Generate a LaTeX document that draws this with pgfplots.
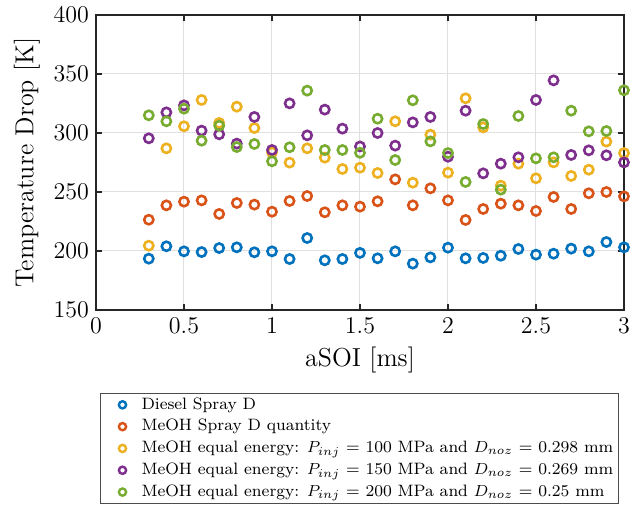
\documentclass[border=0pt]{standalone}
\usepackage{pgfplots}
\pgfplotsset{compat=1.18}
\definecolor{c1}{rgb}{0,0.447,0.741}
\definecolor{c2}{rgb}{0.85,0.325,0.098}
\definecolor{c3}{rgb}{0.929,0.694,0.125}
\definecolor{c4}{rgb}{0.494,0.184,0.556}
\definecolor{c5}{rgb}{0.466,0.674,0.188}
\pgfplotstableread{
x d m e100 e150 e200
0.3 193.5 226.5 204.5 295.5 315.0
0.4 204.0 238.7 287.0 317.5 309.9
0.5 199.7 241.8 305.7 323.4 320.6
0.6 199.1 242.9 328.0 302.0 293.5
0.7 202.5 231.4 308.5 298.9 306.2
0.8 203.1 240.7 322.3 291.0 288.1
0.9 198.9 239.3 304.2 313.6 290.7
1.0 199.7 233.3 283.6 285.6 276.0
1.1 193.2 242.4 274.9 325.1 287.9
1.2 211.0 246.6 287.0 298.0 335.9
1.3 192.1 232.8 279.1 319.8 285.6
1.4 193.2 238.7 269.5 303.7 285.6
1.5 198.4 237.6 270.6 288.6 283.2
1.6 193.8 242.1 266.1 300.0 312.1
1.7 199.7 260.7 309.9 289.3 277.1
1.8 189.3 238.7 257.9 309.0 327.7
1.9 194.6 253.1 298.6 313.6 292.9
2.0 202.8 242.9 266.4 279.9 283.0
2.1 193.8 226.3 329.4 318.9 258.5
2.2 194.1 235.6 304.8 265.8 307.6
2.3 196.0 240.1 255.4 274.0 252.0
2.4 201.7 238.7 274.0 279.4 314.4
2.5 196.9 233.9 261.6 328.0 278.5
2.6 197.7 245.8 275.1 344.6 279.4
2.7 202.0 235.6 263.6 281.4 318.9
2.8 199.7 248.9 268.9 285.3 301.4
2.9 207.6 250.0 292.7 281.1 301.7
3.0 203.1 246.3 283.0 275.1 336.2
}\datatable
\begin{document}
\begin{tikzpicture}
\useasboundingbox (-48pt,-99pt) rectangle (274pt,155pt);
\begin{axis}[
  scale only axis, width=264pt, height=147.5pt,
  xmin=0, xmax=3, ymin=150, ymax=400,
  xtick={0,0.5,1,1.5,2,2.5,3},
  xticklabels={0,0.5,1,1.5,2,2.5,3},
  ytick={150,200,250,300,350,400},
  grid=major, grid style={black!12, line width=0.5pt},
  axis line style={black!85, line width=0.6pt},
  tick style={black!85, line width=0.6pt},
  major tick length=3pt,
  tick align=inside,
  ticklabel style={font=\fontsize{12}{12}\selectfont},
  xlabel={aSOI [ms]}, ylabel={Temperature Drop [K]},
  label style={font=\fontsize{13}{13}\selectfont},
  clip=false,
  legend style={at={(0.0076,-0.2814)}, anchor=north west,
    font=\fontsize{8.25}{11}\selectfont, draw=black!70, line width=0.5pt,
    inner xsep=0.5pt, inner ysep=0pt, row sep=-0.4pt},
  legend cell align=left,
  legend image code/.code={%
    \path[draw=none] (0pt,0pt) -- (18pt,0pt);
    \path[mark size=1.8pt, line width=1.2pt, #1] plot[only marks] coordinates {(10.5pt,0pt)};},
  every axis plot/.append style={only marks, mark=o, mark size=2.3pt, line width=1.3pt},
]
\addplot[c1] table[x=x,y=d]{\datatable};
\addlegendentry{Diesel Spray D}
\addplot[c2] table[x=x,y=m]{\datatable};
\addlegendentry{MeOH Spray D quantity}
\addplot[c3] table[x=x,y=e100]{\datatable};
\addlegendentry{MeOH equal energy: $P_{inj}$ = 100 MPa and $D_{noz}$ = 0.298 mm}
\addplot[c4] table[x=x,y=e150]{\datatable};
\addlegendentry{MeOH equal energy: $P_{inj}$ = 150 MPa and $D_{noz}$ = 0.269 mm}
\addplot[c5] table[x=x,y=e200]{\datatable};
\addlegendentry{MeOH equal energy: $P_{inj}$ = 200 MPa and $D_{noz}$ = 0.25 mm}
\end{axis}
\end{tikzpicture}
\end{document}
